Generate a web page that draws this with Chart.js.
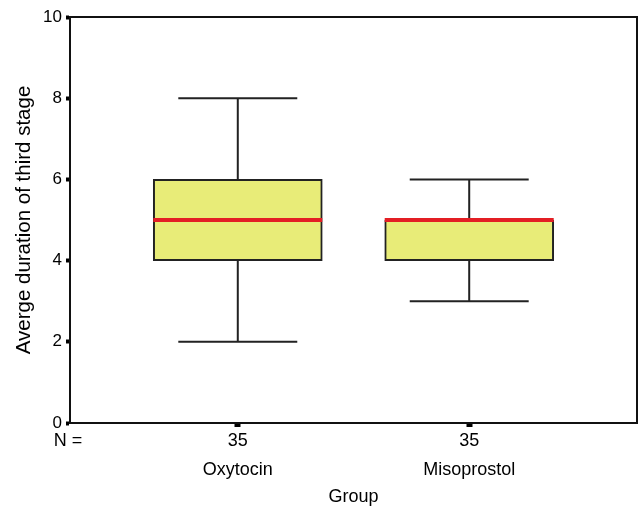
<!DOCTYPE html>
<html>
<head>
<meta charset="utf-8">
<title>Third stage duration by group</title>
<script src="https://cdn.jsdelivr.net/npm/chart.js@4.4.1/dist/chart.umd.min.js"></script>
<style>
  html, body { margin: 0; padding: 0; background: #fff; }
  #wrap { width: 641px; height: 510px; }
</style>
</head>
<body>
<div id="wrap"><canvas id="boxChart"></canvas></div>
<script>
// Dados (boxplot por grupo)
const groups = ['Oxytocin', 'Misoprostol'];
const groupN = [35, 35];
const whiskerLow = [2, 3];
const quartile1 = [4, 4];
const medians = [5, 5];
const quartile3 = [6, 5];
const whiskerHigh = [8, 6];
const yTicks = [0, 2, 4, 6, 8, 10];

Chart.defaults.font.family = '"Liberation Sans", Arial, sans-serif';
Chart.defaults.color = '#000';

// Bigodes (hastes + traços) desenhados com as escalas do próprio Chart.js
const whiskerPlugin = {
    id: 'whiskers',
    beforeDatasetsDraw(chart) {
        const { ctx, scales: { y } } = chart;
        const meta = chart.getDatasetMeta(0);
        ctx.save();
        ctx.strokeStyle = '#222';
        ctx.lineWidth = 2;
        meta.data.forEach((bar, i) => {
            const half = bar.width * 0.352;
            const yLow = y.getPixelForValue(whiskerLow[i]);
            const yHigh = y.getPixelForValue(whiskerHigh[i]);
            const yQ1 = y.getPixelForValue(quartile1[i]);
            const yQ3 = y.getPixelForValue(quartile3[i]);
            ctx.beginPath();
            ctx.moveTo(bar.x, yQ3); ctx.lineTo(bar.x, yHigh);
            ctx.moveTo(bar.x, yQ1); ctx.lineTo(bar.x, yLow);
            ctx.moveTo(bar.x - half, yHigh); ctx.lineTo(bar.x + half, yHigh);
            ctx.moveTo(bar.x - half, yLow); ctx.lineTo(bar.x + half, yLow);
            ctx.stroke();
        });
        ctx.restore();
    },
    afterDatasetsDraw(chart) {
        const { ctx, scales: { y } } = chart;
        const meta = chart.getDatasetMeta(0);
        ctx.save();
        ctx.strokeStyle = '#E31E24';
        ctx.lineWidth = 4;
        meta.data.forEach((bar, i) => {
            const yMed = y.getPixelForValue(medians[i]);
            ctx.beginPath();
            ctx.moveTo(bar.x - bar.width / 2, yMed);
            ctx.lineTo(bar.x + bar.width / 2, yMed);
            ctx.stroke();
        });
        ctx.restore();
    },
    afterDraw(chart) {
        const { ctx, chartArea: a } = chart;
        ctx.save();
        // moldura do gráfico
        ctx.strokeStyle = '#111';
        ctx.lineWidth = 2;
        ctx.strokeRect(a.left, a.top, a.right - a.left, a.bottom - a.top);
        // rótulo "N =" na linha das contagens
        ctx.fillStyle = '#000';
        ctx.font = '18px "Liberation Sans", Arial, sans-serif';
        ctx.textAlign = 'center';
        ctx.textBaseline = 'middle';
        ctx.fillText('N =', a.left - 2, a.bottom + 4 + 14.4);
        ctx.restore();
    }
};

new Chart(document.getElementById('boxChart'), {
    type: 'bar',
    data: {
        datasets: [{
            data: groups.map((g, i) => ({ x: i + 1, y: [quartile1[i], quartile3[i]] })),
            backgroundColor: '#E8EC78',
            borderColor: '#222',
            borderWidth: 2,
            borderSkipped: false,
            barThickness: 169
        }]
    },
    options: {
        responsive: true,
        maintainAspectRatio: false,
        animation: false,
        layout: { padding: { top: 17, right: 4, left: 0, bottom: 0 } },
        plugins: { legend: { display: false }, tooltip: { enabled: false } },
        scales: {
            x: {
                type: 'linear',
                offset: false,
                min: 0.275,
                max: 2.725,
                afterBuildTicks: s => { s.ticks = groups.map((g, i) => ({ value: i + 1 })); },
                afterFit: s => { s.height = 87; },
                ticks: {
                    autoSkip: false,
                    maxRotation: 0,
                    padding: 0,
                    font: { size: 18, lineHeight: 1.6 },
                    callback: (v, idx) => [String(groupN[idx]), groups[idx]]
                },
                grid: { offset: false, drawOnChartArea: false, tickLength: 4, tickWidth: 6, color: '#000' },
                border: { display: true, color: '#111', width: 2 },
                title: { display: true, text: 'Group', font: { size: 18 }, padding: { top: 0, bottom: 2 } }
            },
            y: {
                min: 0,
                max: 10,
                afterBuildTicks: s => { s.ticks = yTicks.map(v => ({ value: v })); },
                afterFit: s => { s.width = 70; },
                ticks: { padding: 4, font: { size: 17 } },
                grid: { drawOnChartArea: false, tickLength: 4, tickWidth: 4, color: '#000' },
                border: { display: true, color: '#111', width: 2 },
                title: { display: true, text: 'Averge duration of third stage', font: { size: 20.5 }, padding: { top: 12, bottom: 0 } }
            }
        }
    },
    plugins: [whiskerPlugin]
});
</script>
</body>
</html>
